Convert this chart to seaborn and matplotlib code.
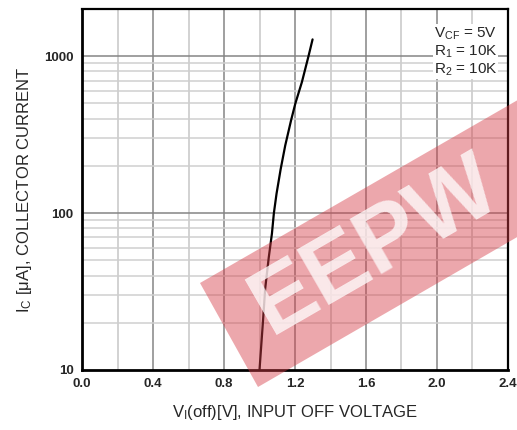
import numpy as np
import pandas as pd
import matplotlib
matplotlib.use("Agg")
import matplotlib.pyplot as plt
import seaborn as sns
from matplotlib.patches import Polygon
from matplotlib.ticker import FixedLocator, NullFormatter

# ---- data ----
v_off = [1.000, 1.019, 1.032, 1.052, 1.070, 1.081, 1.096, 1.119, 1.145,
         1.178, 1.202, 1.239, 1.276, 1.299]
i_c = [10, 20, 33, 52, 74, 100, 133, 190, 270, 391, 500, 685, 1000, 1280]
x_ticks = [0.0, 0.4, 0.8, 1.2, 1.6, 2.0, 2.4]
x_tick_labels = ["0.0", "0.4", "0.8", "1.2", "1.6", "2.0", "2.4"]
y_ticks = [10, 100, 1000]
y_tick_labels = ["10", "100", "1000"]
conditions = ["V$_{\\mathregular{CF}}$ = 5V", "R$_{\\mathregular{1}}$ = 10K", "R$_{\\mathregular{2}}$ = 10K"]

df = pd.DataFrame({"v": v_off, "i": i_c})

sns.set_style("white")
plt.rcParams["font.family"] = ["Liberation Sans", "DejaVu Sans"]
plt.rcParams["mathtext.fontset"] = "custom"
plt.rcParams["mathtext.rm"] = "Liberation Sans"
plt.rcParams["mathtext.it"] = "Liberation Sans:italic"
plt.rcParams["mathtext.bf"] = "Liberation Sans:bold"

W, H = 517, 430
fig = plt.figure(figsize=(W / 100, H / 100), dpi=100)
ax = fig.add_axes([82 / W, 1 - 370 / H, (508 - 82) / W, (370 - 9) / H])

ax.set_yscale("log")
ax.set_xlim(0, 2.4)
ax.set_ylim(10, 2000)

# grid
for xv in np.arange(0.2, 2.4, 0.2):
    major = abs((xv / 0.4) - round(xv / 0.4)) < 1e-6
    ax.axvline(xv, color="#858585" if major else "#c6c6c6", lw=1.1, zorder=1)
for dec in [10, 100, 1000]:
    for m in range(1, 10):
        yv = dec * m
        if yv <= 10 or yv >= 2000:
            continue
        ax.axhline(yv, color="#858585" if m == 1 else "#cfcfcf", lw=1.1, zorder=1)

sns.lineplot(data=df, x="v", y="i", ax=ax, color="black", lw=1.6, zorder=3,
             legend=False)

ax.xaxis.set_major_locator(FixedLocator(x_ticks))
ax.set_xticklabels(x_tick_labels)
ax.yaxis.set_major_locator(FixedLocator(y_ticks))
ax.set_yticklabels(y_tick_labels)
ax.yaxis.set_minor_formatter(NullFormatter())
ax.tick_params(axis="x", which="both", length=0, labelsize=9.5, pad=6)
ax.tick_params(axis="y", which="both", length=0, labelsize=9.5, pad=6)
for lab in ax.get_xticklabels() + ax.get_yticklabels():
    lab.set_fontweight("bold")

for side in ["left", "bottom"]:
    ax.spines[side].set_linewidth(2.0)
for side in ["top", "right"]:
    ax.spines[side].set_linewidth(1.6)
for s in ax.spines.values():
    s.set_color("black")
    s.set_zorder(4)

ax.set_xlabel("V$_{\\mathregular{I}}$(off)[V], INPUT OFF VOLTAGE", fontsize=12, labelpad=9)
ax.set_ylabel("I$_{\\mathregular{C}}$ [μA], COLLECTOR CURRENT", fontsize=12, labelpad=7)

ax.text(0.826, 0.955, "\n".join(conditions), transform=ax.transAxes, ha="left", va="top",
        fontsize=11, linespacing=1.15, zorder=5,
        bbox=dict(facecolor="white", edgecolor="none", pad=0.5))

# watermark (band + letters)
pts = [(200, 283), (258, 387), (640, 166), (582, 63)]
band = Polygon([(x / W, 1 - y / H) for x, y in pts], closed=True, transform=fig.transFigure,
               facecolor=(0.84, 0.24, 0.28), alpha=0.45, edgecolor="none", zorder=10)
fig.patches.append(band)
fig.text(376 / W, 1 - 247 / H, "EEPW", transform=fig.transFigure, rotation=30,
         rotation_mode="anchor", ha="center", va="center", fontsize=66, fontweight="bold",
         color="white", alpha=0.75, zorder=11)

fig.savefig("out.png", dpi=100)
